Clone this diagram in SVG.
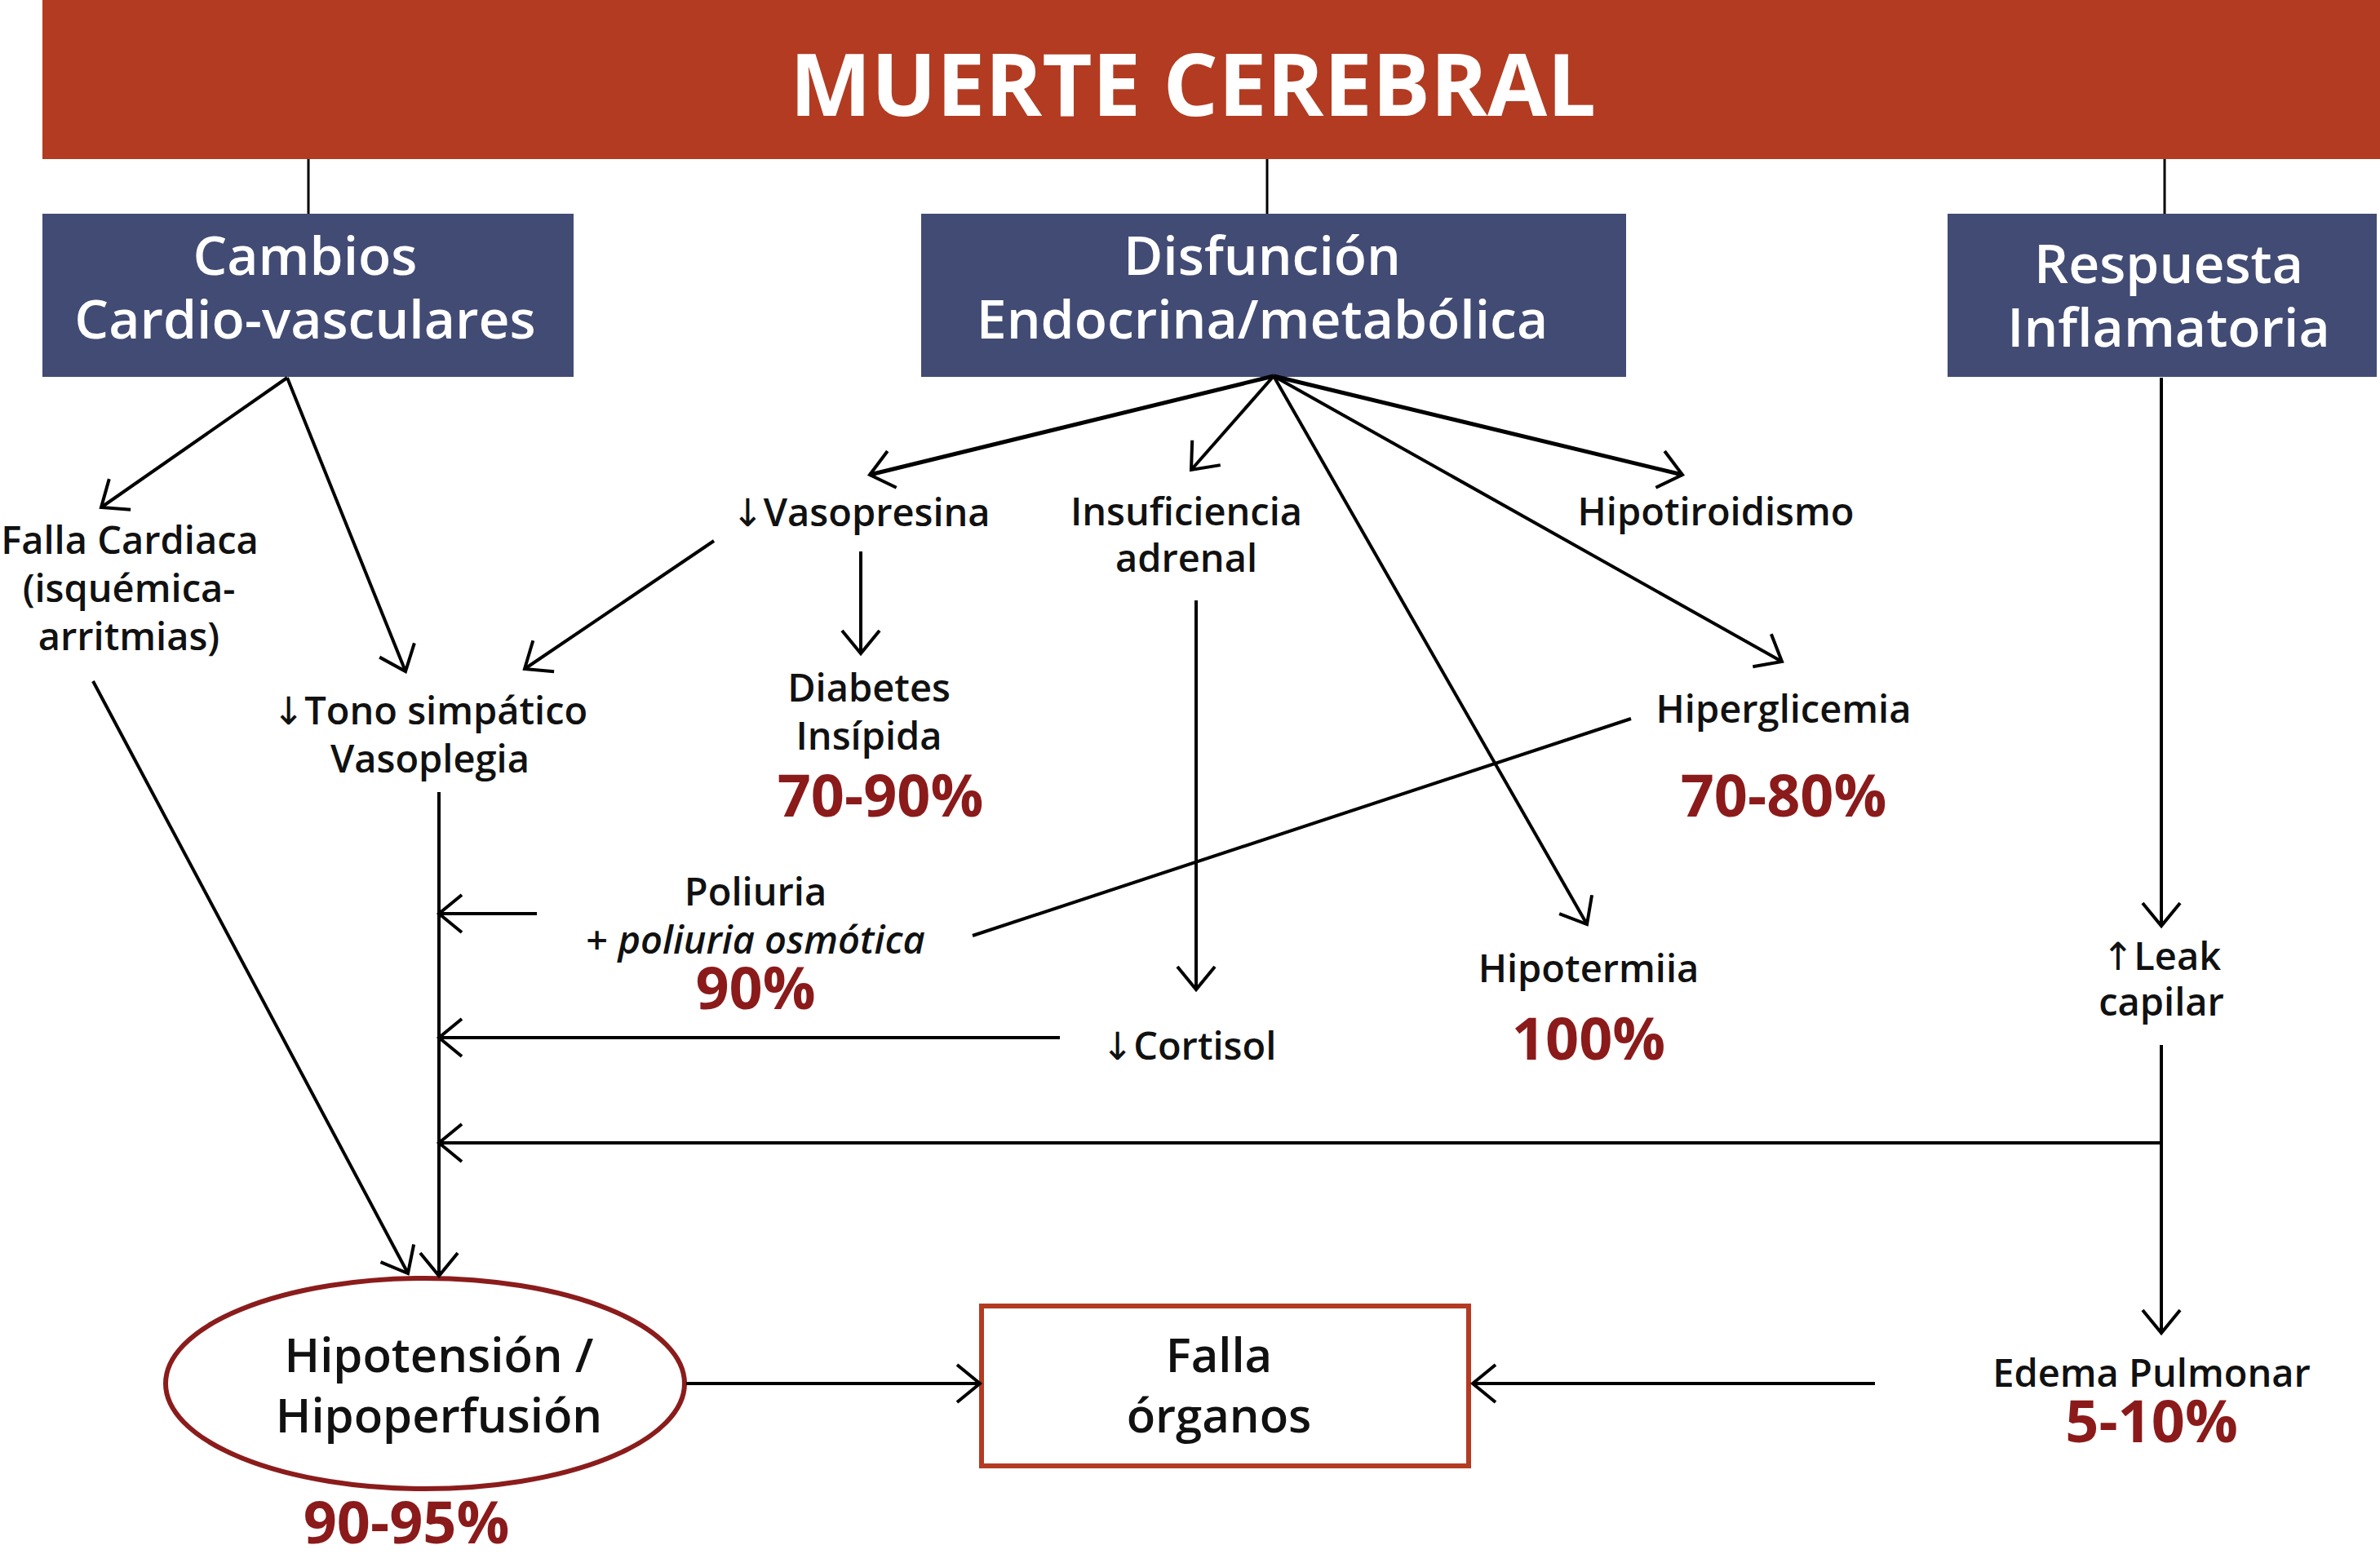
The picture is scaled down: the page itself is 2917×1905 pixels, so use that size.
<svg xmlns="http://www.w3.org/2000/svg" width="2917" height="1905" viewBox="0 0 2917 1905">
<style>
.t{font-family:"Open Sans","Noto Sans","DejaVu Sans",sans-serif;font-weight:600;font-size:47px;fill:#111;text-anchor:middle}
.w{font-family:"Open Sans","Noto Sans","DejaVu Sans",sans-serif;font-weight:600;font-size:66px;fill:#fff;text-anchor:middle}
.p{font-family:"Open Sans","Noto Sans","DejaVu Sans",sans-serif;font-weight:700;font-size:72px;fill:#8b1a1a;text-anchor:middle}
.b{font-family:"Open Sans","Noto Sans","DejaVu Sans",sans-serif;font-weight:600;font-size:58px;fill:#111;text-anchor:middle}
.ar{font-family:"DejaVu Sans",sans-serif;font-weight:400}
.c line{stroke:#000;stroke-width:4;fill:none}
.c .a{marker-end:url(#ah)}
.box{fill:#414b74}
</style>
<defs>
<marker id="ah" markerUnits="userSpaceOnUse" viewBox="-4 -28 40 56" markerWidth="40" markerHeight="56" refX="28" refY="0" orient="auto">
<path d="M0,-23 L28,0 L0,23" fill="none" stroke="#000" stroke-width="4"/>
</marker>
</defs>
<rect width="2917" height="1905" fill="#fff"/>
<g id="muerte-cerebral">
<rect x="52" y="0" width="2865" height="195" fill="#b23b21"/>
<text x="1462" y="142" style="font-family:'Open Sans','Noto Sans','DejaVu Sans',sans-serif;font-weight:700;font-size:106px;fill:#fff;text-anchor:middle">MUERTE CEREBRAL</text>
</g>
<g id="cambios">
<rect class="box" x="52" y="262" width="651" height="200"/>
<text class="w" x="374" y="337">Cambios</text>
<text class="w" x="374" y="415">Cardio-vasculares</text>
</g>
<g id="disfuncion">
<rect class="box" x="1129" y="262" width="864" height="200"/>
<text class="w" x="1547" y="337">Disfunción</text>
<text class="w" x="1547" y="415">Endocrina/metabólica</text>
</g>
<g id="respuesta">
<rect class="box" x="2387" y="262" width="526" height="200"/>
<text class="w" x="2658" y="347">Respuesta</text>
<text class="w" x="2658" y="425">Inflamatoria</text>
</g>
<g id="falla-cardiaca">
<text class="t" x="159" y="679">Falla Cardiaca</text>
<text class="t" x="158" y="738">(isquémica-</text>
<text class="t" x="158" y="797">arritmias)</text>
</g>
<g id="vasopresina"><text class="t" x="1055" y="645"><tspan class="ar">↓</tspan>Vasopresina</text></g>
<g id="insuficiencia">
<text class="t" x="1454" y="644">Insuficiencia</text>
<text class="t" x="1454" y="701">adrenal</text>
</g>
<g id="hipotiroidismo"><text class="t" x="2103" y="644">Hipotiroidismo</text></g>
<g id="tono">
<text class="t" x="527" y="888"><tspan class="ar">↓</tspan>Tono simpático</text>
<text class="t" x="527" y="947">Vasoplegia</text>
</g>
<g id="diabetes">
<text class="t" x="1065" y="860">Diabetes</text>
<text class="t" x="1065" y="919">Insípida</text>
<text class="p" x="1079" y="1001">70-90%</text>
</g>
<g id="hiperglicemia">
<text class="t" x="2186" y="886">Hiperglicemia</text>
<text class="p" x="2186" y="1001">70-80%</text>
</g>
<g id="poliuria">
<text class="t" x="926" y="1110">Poliuria</text>
<text class="t" x="926" y="1169">+ <tspan font-style="italic">poliuria osmótica</tspan></text>
<text class="p" x="926" y="1237">90%</text>
</g>
<g id="cortisol"><text class="t" x="1457" y="1299"><tspan class="ar">↓</tspan>Cortisol</text></g>
<g id="hipotermia">
<text class="t" x="1947" y="1204">Hipotermiia</text>
<text class="p" x="1947" y="1299">100%</text>
</g>
<g id="leak">
<text class="t" x="2649" y="1189"><tspan class="ar">↑</tspan>Leak</text>
<text class="t" x="2649" y="1245">capilar</text>
</g>
<g id="hipotension">
<ellipse cx="521" cy="1696" rx="318" ry="129" fill="none" stroke="#8b1c1c" stroke-width="6"/>
<text class="b" x="538" y="1682">Hipotensión /</text>
<text class="b" x="538" y="1756">Hipoperfusión</text>
<text class="p" x="498" y="1892">90-95%</text>
</g>
<g id="falla-organos">
<rect x="1203" y="1601" width="597" height="196" fill="none" stroke="#b33b22" stroke-width="6"/>
<text class="b" x="1494" y="1682">Falla</text>
<text class="b" x="1494" y="1756">órganos</text>
</g>
<g id="edema">
<text class="t" x="2637" y="1700">Edema Pulmonar</text>
<text class="p" x="2637" y="1768">5-10%</text>
</g>
<g id="connectors" class="c">
<line x1="378" y1="195" x2="378" y2="262" style="stroke-width:3"/>
<line x1="1553" y1="195" x2="1553" y2="262" style="stroke-width:3"/>
<line x1="2653" y1="195" x2="2653" y2="262" style="stroke-width:3"/>
<line class="a" x1="352" y1="463" x2="124" y2="622"/>
<line class="a" x1="352" y1="463" x2="497" y2="823"/>
<line class="a" x1="1561" y1="461" x2="1066" y2="582" style="stroke-width:5"/>
<line class="a" x1="1561" y1="461" x2="1460" y2="576"/>
<line class="a" x1="1561" y1="461" x2="2062" y2="582" style="stroke-width:5"/>
<line class="a" x1="1561" y1="461" x2="2184" y2="811"/>
<line class="a" x1="1561" y1="461" x2="1945" y2="1133"/>
<line class="a" x1="875" y1="663" x2="643" y2="820"/>
<line class="a" x1="1055" y1="676" x2="1055" y2="801"/>
<line class="a" x1="1466" y1="736" x2="1466" y2="1213"/>
<line x1="1999" y1="881" x2="1192" y2="1147"/>
<line class="a" x1="658" y1="1120" x2="538" y2="1120"/>
<line class="a" x1="1299" y1="1272" x2="538" y2="1272"/>
<line class="a" x1="2649" y1="1401" x2="538" y2="1401"/>
<line class="a" x1="538" y1="971" x2="538" y2="1564"/>
<line class="a" x1="114" y1="835" x2="500" y2="1561"/>
<line class="a" x1="2649" y1="463" x2="2649" y2="1135"/>
<line class="a" x1="2649" y1="1281" x2="2649" y2="1634"/>
<line class="a" x1="841" y1="1696" x2="1201" y2="1696"/>
<line class="a" x1="2298" y1="1696" x2="1805" y2="1696"/>
</g>
</svg>
